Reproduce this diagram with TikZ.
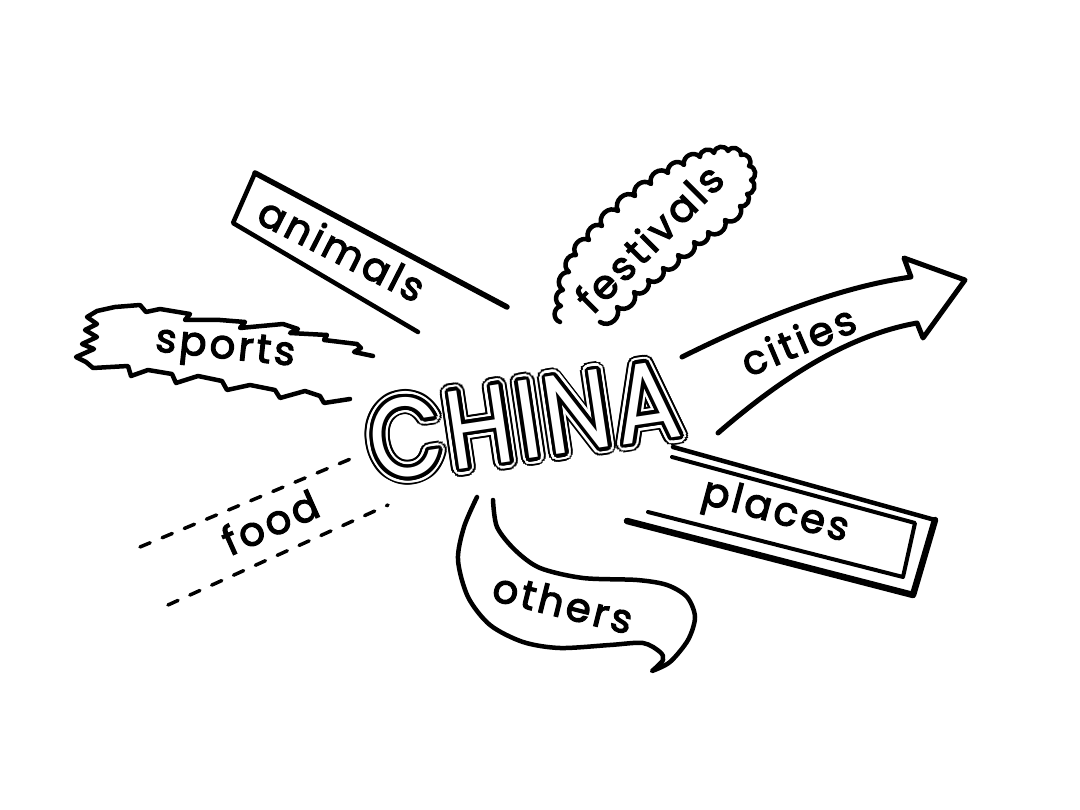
\documentclass[tikz,border=0pt]{standalone}
\usepackage{fontspec}
\setmainfont{Poppins}
\newfontfamily\lblfont{Poppins}[LetterSpace=8,FakeBold=3]
\newfontfamily\chinafont{Poppins}[FakeStretch=0.85,LetterSpace=4]
\tikzset{
  ink/.style={line width=4.5pt, line cap=round, line join=round},
  heavy/.style={line width=5.5pt, line cap=round, line join=round},
  lbl/.style={font=\lblfont\fontsize{40}{48}\selectfont, inner sep=0pt},
  china/.style={font=\chinafont\fontsize{112}{112}\selectfont, inner sep=0pt, rotate=8.5},
  dashline/.style={line width=3.5pt, line cap=round, dash pattern=on 11pt off 13pt},
  scal/.style={bend left=75, looseness=1.3},
}
\begin{document}
\begin{tikzpicture}[x=1pt,y=-1pt]
\useasboundingbox (0,0) rectangle (1080,810);
\fill[white] (0,0) rectangle (1080,810);

% ---------- CHINA (double outlined word, built in layers) ----------
\coordinate (cc) at (524,420);
\foreach \a in {0,15,...,345} {\node[china, text=black] (ka\a) at ([shift={(\a:8)}]cc) {CHINA};}
\foreach \a in {0,20,...,340} {\node[china, text=black] (kb\a) at ([shift={(\a:4.5)}]cc) {CHINA};}
\foreach \a in {0,15,...,345} {\node[china, text=white] (kc\a) at ([shift={(\a:6)}]cc) {CHINA};}
\foreach \a in {0,20,...,340} {\node[china, text=white] (kd\a) at ([shift={(\a:3)}]cc) {CHINA};}
\foreach \a in {0,20,...,340} {\node[china, text=black] (ke\a) at ([shift={(\a:3.5)}]cc) {CHINA};}
\foreach \a in {0,30,...,330} {\node[china, text=black] (kf\a) at ([shift={(\a:1.75)}]cc) {CHINA};}
\node[china, text=white] (china) at (cc) {CHINA};

% ---------- animals ----------
\draw[heavy] (507,307) -- (255,173);
\draw[ink] (255,173) -- (233,223) -- (418,332);
\node[lbl, rotate=-27] (animals) at (342,249) {animals};

% ---------- sports ----------
\draw[ink]
  (373,356) -- (354,352) -- (361,348) -- (357,344) -- (324,340) -- (327,335)
  -- (290,333) -- (298,329) -- (283,324) -- (240,328) -- (245,322)
  -- (220,320) -- (185,320) -- (190,314) -- (160,309) -- (146,312)
  -- (140,305) -- (115,307) -- (97,311) -- (87,317)
  -- (97,324) -- (85,330) -- (97,337) -- (82,344) -- (94,349) -- (76,357)
  -- (86,362) -- (93,368) -- (128,366) -- (131,376) -- (148,370)
  -- (172,374) -- (176,383) -- (198,376) -- (222,381) -- (227,390)
  -- (250,385) -- (275,390) -- (280,398) -- (305,391) -- (320,396)
  -- (324,403) -- (350,399);
\node[lbl, rotate=-6] (sports) at (225,350) {sports};

% ---------- festivals ----------
\draw[ink] (560,322) to[scal] (561,306) to[scal] (563,290) to[scal] (569,272)
  to[scal] (576,255) to[scal] (589,240) to[scal] (602,226) to[scal] (618,211)
  to[scal] (635,196) to[scal] (651,184) to[scal] (668,173) to[scal] (684,165)
  to[scal] (700,157) to[scal] (714,153) to[scal] (728,151) to[scal] (741,155)
  to[scal] (749,166) to[scal] (751,180) to[scal] (747,194) to[scal] (740,206)
  to[scal] (725,220) to[scal] (708,232) to[scal] (694,242) to[scal] (678,255)
  to[scal] (663,268) to[scal] (648,280) to[scal] (634,292) to[scal] (617,307)
  to[scal] (600,322);
\node[lbl, rotate=45] (festivals) at (649,238) {festivals};

% ---------- cities ----------
\draw[heavy, line width=5pt] (682,357) .. controls (760,318) and (840,287) .. (911,277)
  -- (904,258) -- (965,280) -- (923,338) -- (917,323)
  .. controls (850,335) and (785,375) .. (718,433);
\node[lbl, rotate=23] (cities) at (798,340) {cities};

% ---------- places ----------
\draw[ink] (673,447) -- (935,520);
\draw[heavy, line width=6.5pt] (935,520) -- (913,595) -- (627,521);
\draw[ink, line width=4pt] (672,457) -- (915,523) -- (903,577) -- (648,512);
\node[lbl, rotate=-15] (places) at (775,513) {places};

% ---------- others ----------
\draw[ink] plot[smooth] coordinates {(493,500) (497,527) (515,550) (540,568)
  (583,578) (637,580) (667,585) (687,597) (695,617) (688,640) (670,662) (652,671)}
  -- plot[smooth] coordinates {(652,671) (663,660) (660,652) (643,643) (610,645)
  (560,648) (523,642) (490,625) (468,597) (458,560) (464,527) (477,497)};
\node[lbl, rotate=-14] (others) at (563,603) {others};

% ---------- food ----------
\draw[dashline] (140,547) -- (360,455);
\draw[dashline] (168,605) -- (388,505);
\node[lbl, rotate=24] (food) at (270,522) {food};
\end{tikzpicture}
\end{document}
